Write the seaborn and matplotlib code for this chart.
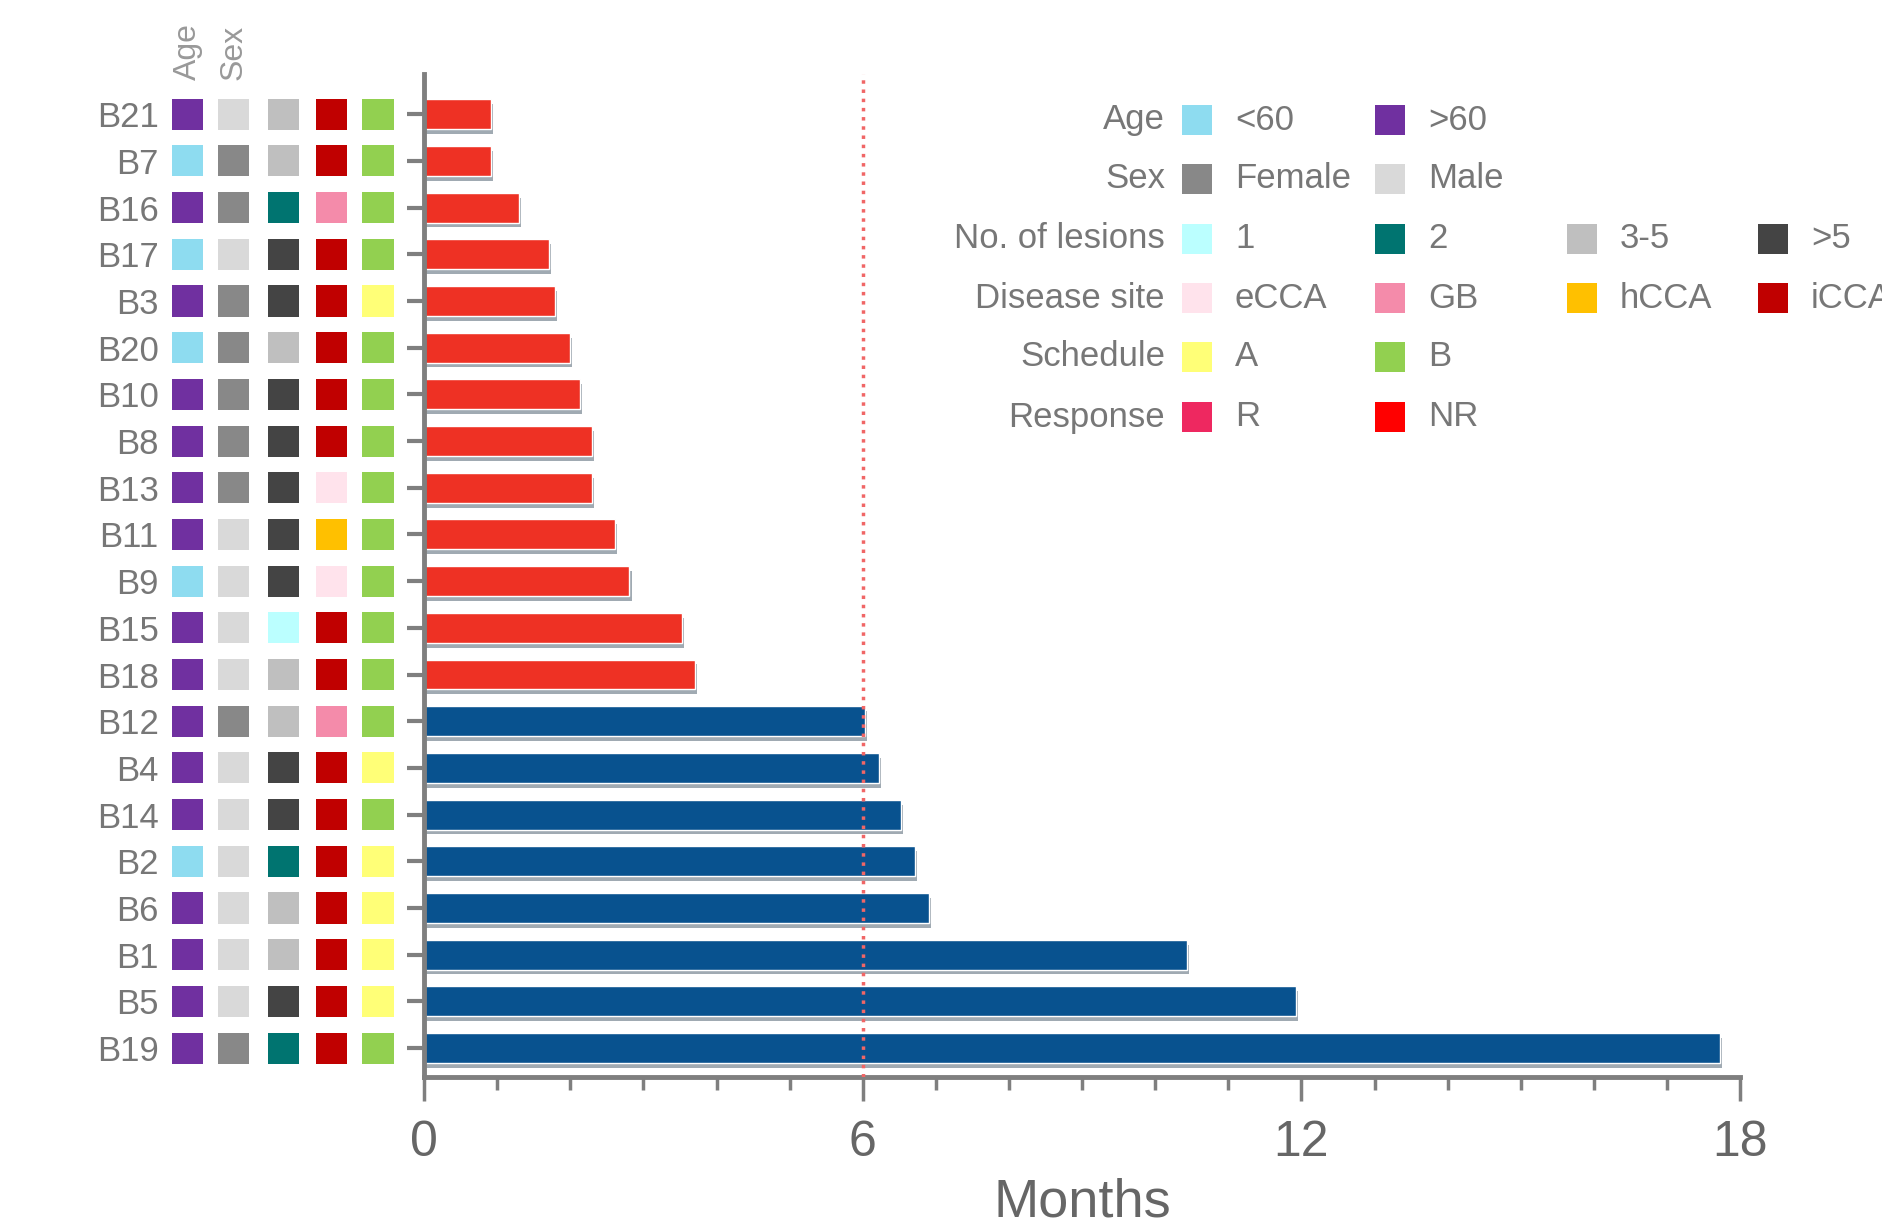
import numpy as np
import pandas as pd
import matplotlib
matplotlib.use('Agg')
import matplotlib.pyplot as plt
import matplotlib.patheffects as pe
from matplotlib.ticker import MultipleLocator
import seaborn as sns

# patients from top to bottom, months of follow-up
patients = ['B21', 'B7', 'B16', 'B17', 'B3', 'B20', 'B10', 'B8', 'B13', 'B11', 'B9',
            'B15', 'B18', 'B12', 'B4', 'B14', 'B2', 'B6', 'B1', 'B5', 'B19']
months = [0.92, 0.92, 1.30, 1.71, 1.79, 2.00, 2.13, 2.30, 2.30, 2.61, 2.81,
          3.53, 3.71, 6.03, 6.22, 6.52, 6.72, 6.90, 10.43, 11.92, 17.73]
response = ['NR'] * 13 + ['R'] * 8

age = ['>60', '<60', '>60', '<60', '>60', '<60', '>60', '>60', '>60', '>60', '<60',
       '>60', '>60', '>60', '>60', '>60', '<60', '>60', '>60', '>60', '>60']
sex = ['Male', 'Female', 'Female', 'Male', 'Female', 'Female', 'Female', 'Female', 'Female', 'Male', 'Male',
       'Male', 'Male', 'Female', 'Male', 'Male', 'Male', 'Male', 'Male', 'Male', 'Female']
lesions = ['3-5', '3-5', '2', '>5', '>5', '3-5', '>5', '>5', '>5', '>5', '>5',
           '1', '3-5', '3-5', '>5', '>5', '2', '3-5', '3-5', '>5', '2']
site = ['iCCA', 'iCCA', 'GB', 'iCCA', 'iCCA', 'iCCA', 'iCCA', 'iCCA', 'eCCA', 'hCCA', 'eCCA',
        'iCCA', 'iCCA', 'GB', 'iCCA', 'iCCA', 'iCCA', 'iCCA', 'iCCA', 'iCCA', 'iCCA']
schedule = ['B', 'B', 'B', 'B', 'A', 'B', 'B', 'B', 'B', 'B', 'B',
            'B', 'B', 'B', 'A', 'B', 'A', 'A', 'A', 'A', 'B']

age_colors = {'<60': '#8EDCF0', '>60': '#7030A0'}
sex_colors = {'Female': '#888888', 'Male': '#D9D9D9'}
lesion_colors = {'1': '#BBFFFF', '2': '#007470', '3-5': '#BFBFBF', '>5': '#444444'}
site_colors = {'eCCA': '#FFE3EC', 'GB': '#F48BAA', 'hCCA': '#FFC000', 'iCCA': '#C00000'}
schedule_colors = {'A': '#FFFF77', 'B': '#92D050'}
response_colors = {'R': '#EE2860', 'NR': '#FF0000'}
bar_colors = {'NR': '#EE3124', 'R': '#08528F'}

legend_titles = ['Age', 'Sex', 'No. of lesions', 'Disease site', 'Schedule', 'Response']
legend_maps = [age_colors, sex_colors, lesion_colors, site_colors, schedule_colors, response_colors]

sns.set_style('ticks')
plt.rcParams['font.family'] = ['Liberation Sans', 'DejaVu Sans']

fig = plt.figure(figsize=(18.83, 12.32), dpi=100)
ax = fig.add_axes([0.2252, 0.1258, 0.6989, 0.8141])

df = pd.DataFrame({'Patient': patients, 'Months': months, 'Response': response})
sns.barplot(data=df, x='Months', y='Patient', hue='Response', palette=bar_colors,
            dodge=False, width=0.64, saturation=1, legend=False, orient='h', ax=ax)
for bar in ax.patches:
    bar.set_path_effects([pe.SimplePatchShadow(offset=(1.5, -3.5), shadow_rgbFace='#8f9ba5', alpha=0.85),
                          pe.Normal()])

ax.axvline(6, color='#F06666', ls=':', lw=2.5, zorder=5)

ax.set_xlim(0, 18)
ax.set_ylim(20.62, -0.86)
sns.despine(ax=ax)
for s in ['left', 'bottom']:
    ax.spines[s].set_color('#7f7f7f')
    ax.spines[s].set_linewidth(3.5)

ax.xaxis.set_major_locator(MultipleLocator(6))
ax.xaxis.set_minor_locator(MultipleLocator(1))
ax.tick_params(axis='x', which='major', length=17, width=2.5, color='#7f7f7f',
               labelsize=36, labelcolor='#666666', pad=14)
ax.tick_params(axis='x', which='minor', length=9, width=2.5, color='#7f7f7f')
ax.tick_params(axis='y', length=12, width=3, color='#7f7f7f',
               labelsize=25, labelcolor='#777777', pad=179)
ax.set_ylabel('')
ax.set_xlabel('Months', fontsize=39, color='#666666', labelpad=8)

# annotation squares left of the axis
col_x = [-3.23, -2.60, -1.92, -1.26, -0.63]
columns = [(age, age_colors), (sex, sex_colors), (lesions, lesion_colors),
           (site, site_colors), (schedule, schedule_colors)]
for xpos, (vals, cmap) in zip(col_x, columns):
    ax.scatter(np.full(len(patients), xpos), patients, c=[cmap[v] for v in vals],
               marker='s', s=500, linewidths=0, clip_on=False, zorder=3)

# overlay in pixel coordinates for header and legend
ov = fig.add_axes([0, 0, 1, 1])
ov.set_xlim(0, 1883)
ov.set_ylim(1232, 0)
ov.axis('off')

for label, xp in zip(['Age', 'Sex'], [188, 234]):
    ov.text(xp, 80, label, rotation=90, ha='center', va='bottom', fontsize=23, color='#999999')

row_y = [120, 179, 239, 298, 357, 417]
sw_x = [1197, 1390, 1582, 1773]
for ry, title, cmap in zip(row_y, legend_titles, legend_maps):
    ov.text(1165, ry, title, ha='right', va='center', fontsize=25, color='#777777')
    for sx, (lab, colr) in zip(sw_x, cmap.items()):
        ov.scatter([sx], [ry], marker='s', s=440, c=colr, linewidths=0)
        ov.text(sx + 38, ry, lab, ha='left', va='center', fontsize=25, color='#777777')

fig.savefig('out.png', dpi=100)
